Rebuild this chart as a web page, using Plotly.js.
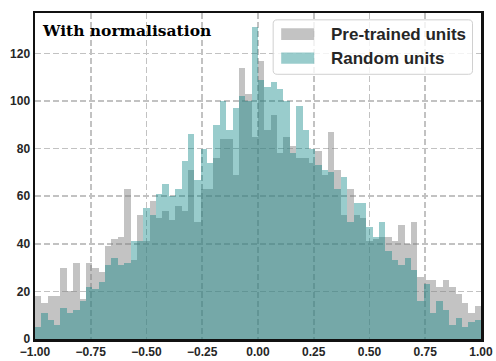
<!DOCTYPE html>
<html>
<head>
<meta charset="utf-8">
<script src="https://cdn.plot.ly/plotly-3.0.1.min.js"></script>
<style>
  html, body { margin: 0; padding: 0; background: #fff; }
  #chart { width: 496px; height: 361px; }
</style>
</head>
<body>
<div id="chart"></div>
<script>
// 70 bins over [-1, 1]
var binStart = -1;
var binEnd = 1;
var nBins = 70;

var pretrainedCounts = [
  18, 15, 18, 18, 30, 20, 32, 17, 32, 30,
  28, 39, 42, 43, 63, 33, 52, 41, 58, 51,
  54, 50, 56, 54, 71, 49, 63, 63, 76, 84,
  84, 69, 114, 103, 85, 117, 88, 94, 78, 85,
  81, 76, 76, 74, 79, 69, 87, 71, 52, 63,
  52, 51, 41, 42, 43, 43, 41, 48, 40, 49,
  26, 25, 25, 22, 25, 22, 19, 15, 11, 14
];

var randomCounts = [
  5, 11, 8, 6, 13, 11, 12, 16, 22, 21,
  24, 31, 34, 31, 32, 41, 41, 55, 52, 61,
  65, 60, 63, 75, 86, 67, 80, 74, 90, 100,
  88, 97, 102, 100, 131, 109, 106, 108, 105, 100,
  78, 98, 88, 80, 73, 71, 70, 63, 68, 49,
  57, 57, 47, 43, 49, 37, 33, 31, 34, 29,
  16, 23, 11, 16, 12, 6, 9, 5, 7, 8
];

var seriesNames = ["Pre-trained units", "Random units"];
var xTicks = [-1, -0.75, -0.5, -0.25, 0, 0.25, 0.5, 0.75, 1];
var yTicks = [0, 20, 40, 60, 80, 100, 120];

var binWidth = (binEnd - binStart) / nBins;
var binCenters = pretrainedCounts.map((d, i) => binStart + (i + 0.5) * binWidth);

var grayFill = "rgba(128, 128, 128, 0.47)";
var tealFill = "rgba(0, 128, 128, 0.4)";

var trace_pre = {
  x: binCenters,
  y: pretrainedCounts,
  type: "bar",
  name: seriesNames[0],
  width: binWidth,
  marker: { color: grayFill, line: { width: 0 } },
  hoverinfo: "none",
};

var trace_rand = {
  x: binCenters,
  y: randomCounts,
  type: "bar",
  name: seriesNames[1],
  width: binWidth,
  marker: { color: tealFill, line: { width: 0 } },
  hoverinfo: "none",
};

var data = [trace_pre, trace_rand];

// hand-made legend (wide swatches, rounded frame)
function roundRect(x0, y0, x1, y1, rx, ry) {
  return "M" + (x0 + rx) + "," + y1 +
    " L" + (x1 - rx) + "," + y1 +
    " Q" + x1 + "," + y1 + " " + x1 + "," + (y1 - ry) +
    " L" + x1 + "," + (y0 + ry) +
    " Q" + x1 + "," + y0 + " " + (x1 - rx) + "," + y0 +
    " L" + (x0 + rx) + "," + y0 +
    " Q" + x0 + "," + y0 + " " + x0 + "," + (y0 + ry) +
    " L" + x0 + "," + (y1 - ry) +
    " Q" + x0 + "," + y1 + " " + (x0 + rx) + "," + y1 + " Z";
}

var shapes = [
  {
    type: "path", xref: "paper", yref: "paper",
    path: roundRect(0.534, 0.812, 0.981, 0.979, 0.009, 0.012),
    fillcolor: "rgba(255,255,255,0.8)",
    line: { color: "#d0d0d0", width: 1 },
  },
  {
    type: "rect", xref: "paper", yref: "paper",
    x0: 0.552, x1: 0.626, y0: 0.917, y1: 0.953,
    fillcolor: grayFill, line: { width: 0 },
  },
  {
    type: "rect", xref: "paper", yref: "paper",
    x0: 0.552, x1: 0.626, y0: 0.844, y1: 0.879,
    fillcolor: tealFill, line: { width: 0 },
  },
];

var legendFont = { family: "Liberation Sans, Arial, sans-serif", size: 17, color: "#262626", weight: "bold" };

var annotations = [
  {
    xref: "paper", yref: "paper", x: 0.011, y: 0.945,
    xanchor: "left", yanchor: "middle", showarrow: false,
    text: "<b>With normalisation</b>",
    font: { family: "DejaVu Serif, serif", size: 15.5, color: "#000" },
  },
  {
    xref: "paper", yref: "paper", x: 0.659, y: 0.934,
    xanchor: "left", yanchor: "middle", showarrow: false,
    text: seriesNames[0], font: legendFont,
  },
  {
    xref: "paper", yref: "paper", x: 0.659, y: 0.861,
    xanchor: "left", yanchor: "middle", showarrow: false,
    text: seriesNames[1], font: legendFont,
  },
];

var tickFont = { family: "Liberation Sans, Arial, sans-serif", size: 12, color: "#262626", weight: "bold" };

var layout = {
  width: 496,
  height: 361,
  margin: { l: 35, r: 15, t: 13, b: 22 },
  barmode: "overlay",
  bargap: 0,
  showlegend: false,
  plot_bgcolor: "#fff",
  paper_bgcolor: "#fff",
  xaxis: {
    range: [-1, 1],
    tickmode: "array",
    tickvals: xTicks,
    tickformat: ".2f",
    tickfont: tickFont,
    showgrid: true,
    gridcolor: "#c2c2c2",
    gridwidth: 1.7,
    griddash: "6px,3px",
    zeroline: false,
    showline: true,
    mirror: true,
    linecolor: "#111",
    linewidth: 2.5,
    ticks: "",
  },
  yaxis: {
    range: [0, 137],
    tickmode: "array",
    tickvals: yTicks,
    tickfont: tickFont,
    showgrid: true,
    gridcolor: "#c2c2c2",
    gridwidth: 1.7,
    griddash: "6px,3px",
    zeroline: false,
    showline: true,
    mirror: true,
    linecolor: "#111",
    linewidth: 2.5,
    ticks: "",
  },
  shapes: shapes,
  annotations: annotations,
};

Plotly.newPlot("chart", data, layout, { displayModeBar: false, staticPlot: true });
</script>
</body>
</html>
